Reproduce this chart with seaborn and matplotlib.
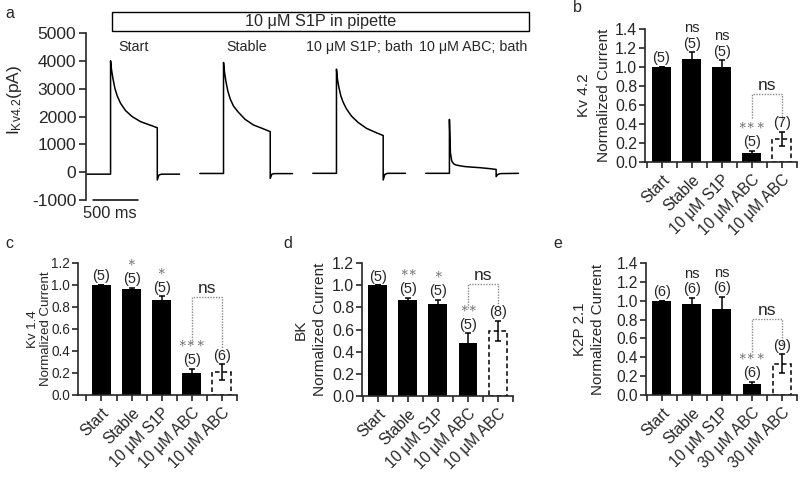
import numpy as np
import pandas as pd
import seaborn as sns
import matplotlib.pyplot as plt
from matplotlib.patches import Rectangle

# ---- panel a: current traces (ms, pA) ----
sweep_start = [10, 1265, 2520, 3775]
trace_names = ['Start', 'Stable', '10 μM S1P; bath', '10 μM ABC; bath']
t_rel = [0, 263, 263, 274, 289, 311, 337, 374, 430, 504, 596, 707, 782, 782, 800, 830, 1030]
trace_start = [-70, -70, 4010, 3680, 3380, 3020, 2745, 2480, 2215, 2000, 1820, 1690, 1600, -280, -100, -70, -70]
trace_stable = [-45, -45, 3950, 3600, 3280, 2920, 2640, 2380, 2150, 1900, 1700, 1560, 1460, -220, -70, -50, -50]
trace_s1p = [-40, -40, 3710, 3350, 3070, 2750, 2520, 2280, 2020, 1790, 1580, 1420, 1320, -280, -80, -40, -40]
trace_abc = [-40, -40, 1900, 700, 400, 300, 260, 235, 205, 185, 165, 130, 100, -160, -80, -50, -40]
traces = [trace_start, trace_stable, trace_s1p, trace_abc]

# ---- panels b-e: normalized currents ----
cond_b = ['Start', 'Stable', '10 μM S1P', '10 μM ABC', '10 μM ABC']
mean_b = [1.0, 1.085, 1.0, 0.10, 0.24]
sem_b = [0, 0.07, 0.07, 0.017, 0.075]
n_b = ['(5)', '(5)', '(5)', '(5)', '(7)']
sig_b = ['', 'ns', 'ns', '***', '']
bracket_b = [0.46, 0.72, 0.44]

cond_c = ['Start', 'Stable', '10 μM S1P', '10 μM ABC', '10 μM ABC']
mean_c = [1.0, 0.965, 0.862, 0.197, 0.21]
sem_c = [0, 0.012, 0.035, 0.04, 0.07]
n_c = ['(5)', '(5)', '(5)', '(5)', '(6)']
sig_c = ['', '*', '*', '***', '']
bracket_c = [0.47, 0.89, 0.42]

cond_d = ['Start', 'Stable', '10 μM S1P', '10 μM ABC', '10 μM ABC']
mean_d = [1.0, 0.865, 0.826, 0.475, 0.588]
sem_d = [0, 0.02, 0.04, 0.09, 0.088]
n_d = ['(5)', '(5)', '(5)', '(5)', '(8)']
sig_d = ['', '**', '*', '**', '']
bracket_d = [0.79, 1.01, 0.80]

cond_e = ['Start', 'Stable', '10 μM S1P', '30 μM ABC', '30 μM ABC']
mean_e = [1.0, 0.965, 0.909, 0.117, 0.33]
sem_e = [0, 0.065, 0.13, 0.023, 0.1]
n_e = ['(6)', '(6)', '(6)', '(6)', '(9)']
sig_e = ['', 'ns', 'ns', '***', '']
bracket_e = [0.46, 0.81, 0.53]

sns.set_style('ticks')
plt.rcParams['font.family'] = ['Liberation Sans', 'DejaVu Sans']
plt.rcParams['mathtext.fontset'] = 'custom'
plt.rcParams['mathtext.rm'] = 'Liberation Sans'
plt.rcParams['mathtext.it'] = 'Liberation Sans'
plt.rcParams['axes.unicode_minus'] = False
plt.rcParams['font.size'] = 10

fig = plt.figure(figsize=(8, 4.78), dpi=100)
W, H = 800, 478


def px_axes(l, t, r, b):
    return fig.add_axes([l / W, 1 - b / H, (r - l) / W, (b - t) / H])


# ---------------- panel a ----------------
ax = px_axes(86, 33.3, 536, 200)
for k in range(4):
    t = np.array(t_rel) + sweep_start[k]
    sns.lineplot(x=t, y=traces[k], ax=ax, color='black', lw=1.1,
                 sort=False, estimator=None)
    ax.text(sweep_start[k] + np.mean([t_rel[1], t_rel[12]]), 4500, trace_names[k],
            ha='center', va='center', fontsize=10.3)
ax.set_xlim(0, 5000)
ax.set_ylim(-1000, 5000)
ax.set_yticks(range(-1000, 5001, 1000))
ax.set_xticks([])
for s in ['top', 'right', 'bottom']:
    ax.spines[s].set_visible(False)
ax.spines['left'].set_linewidth(1.2)
ax.tick_params(axis='y', length=5, width=1.2, labelsize=12.5, pad=2)
ax.set_ylabel('')
ax.text(-0.158, 0.6, r'I$_{\mathrm{Kv4.2}}$(pA)', transform=ax.transAxes,
        rotation=90, ha='center', va='center', fontsize=12.5)
# pipette box
ax.add_patch(Rectangle((289, 5083), 4922 - 289, 5766 - 5083, fill=False,
                       lw=1.0, ec='black', clip_on=False))
ax.text((289 + 4922) / 2, 5424, '10 μM S1P in pipette', ha='center', va='center',
        fontsize=11.7)
# scale bar
ax.plot([78, 578], [-1000, -1000], color='black', lw=1.1, clip_on=False)
ax.text(260, -1500, '500 ms', ha='center', va='center', fontsize=11.8)


# ---------------- bar panels ----------------
def bar_panel(rect, xmin, ymax, cond, mean, sem, n, sig, bracket, name, lab_x, fs):
    ax = px_axes(*rect)
    x = np.arange(len(cond))
    sns.barplot(x=x, y=mean, color='black', width=0.63, errorbar=None, ax=ax)
    for i, p in enumerate(ax.patches):
        p.set_linewidth(0)
        if i == 4:
            p.set_facecolor('white')
            p.set_edgecolor('black')
            p.set_linewidth(1.1)
            p.set_linestyle((0, (3, 2)))
    ax.errorbar(x, mean, yerr=sem, fmt='none', ecolor='black', elinewidth=1.1,
                capsize=2.5, capthick=1.1)
    for i in range(len(cond)):
        top = mean[i] + sem[i]
        ax.annotate(n[i], (i, top), xytext=(0, 1.2), textcoords='offset points',
                    ha='center', va='bottom', fontsize=10.5)
        if sig[i] == 'ns':
            ax.annotate(sig[i], (i, top), xytext=(0, 12.3), textcoords='offset points',
                        ha='center', va='bottom', fontsize=10.5)
        elif sig[i]:
            stars = '$' + r'\ast\!' * (len(sig[i]) - 1) + r'\ast$'
            ax.annotate(stars, (i, top), xytext=(0, 13.8), textcoords='offset points',
                        ha='center', va='bottom', fontsize=11, color='#555555')
    # comparison bracket
    lb, tp, rb = bracket
    ax.plot([3, 3, 4, 4], [lb, tp, tp, rb], color='#888888', lw=1.0, ls=(0, (1, 1)))
    ax.annotate('ns', (3.5, tp), xytext=(0, 0.5), textcoords='offset points',
                ha='center', va='bottom', fontsize=12.5)
    ax.set_xlim(xmin, 4.5)
    ax.set_ylim(0, ymax)
    ax.set_yticks(np.arange(0, ymax + 0.01, 0.2))
    ax.set_yticklabels([f'{v:.1f}' for v in np.arange(0, ymax + 0.01, 0.2)])
    ax.set_xticks(x)
    ax.set_xticks(np.arange(-0.5, 4.6, 1), minor=True)
    ax.set_xticklabels(cond, rotation=45, ha='right', rotation_mode='anchor')
    ax.tick_params(axis='both', which='both', length=4.2, width=1.2, pad=1.5)
    ax.tick_params(axis='y', labelsize=fs)
    ax.tick_params(axis='x', which='major', pad=3, labelsize=11.2)
    for s in ['top', 'right']:
        ax.spines[s].set_visible(False)
    for s in ['left', 'bottom']:
        ax.spines[s].set_linewidth(1.2)
    ax.set_ylabel('')
    ax.set_xlabel('')
    w = rect[2] - rect[0]
    ax.text(lab_x[0] / w, 0.5, name, transform=ax.transAxes, rotation=90,
            ha='center', va='center', fontsize=fs - 0.3)
    ax.text(lab_x[1] / w, 0.5, 'Normalized Current', transform=ax.transAxes, rotation=90,
            ha='center', va='center', fontsize=fs - 0.3)
    return ax


bar_panel((645, 29, 797, 162), -0.55, 1.4, cond_b, mean_b, sem_b, n_b, sig_b,
          bracket_b, 'Kv 4.2', (-61, -41.5), 11.4)
bar_panel((78, 263, 237, 395), -0.78, 1.2, cond_c, mean_c, sem_c, n_c, sig_c,
          bracket_c, 'Kv 1.4', (-45, -32), 9.8)
bar_panel((362, 263, 513, 396), -0.53, 1.2, cond_d, mean_d, sem_d, n_d, sig_d,
          bracket_d, 'BK', (-61, -42.5), 11.4)
bar_panel((646, 263, 797, 395), -0.53, 1.4, cond_e, mean_e, sem_e, n_e, sig_e,
          bracket_e, 'K2P 2.1', (-66.5, -48), 11.2)

for lbl, xp, yp in [('a', 10, 13), ('b', 577, 8), ('c', 9, 244), ('d', 288, 243), ('e', 558, 243)]:
    fig.text(xp / W, 1 - yp / H, lbl, ha='center', va='center', fontsize=11.5)

fig.savefig('out.png', dpi=100)
